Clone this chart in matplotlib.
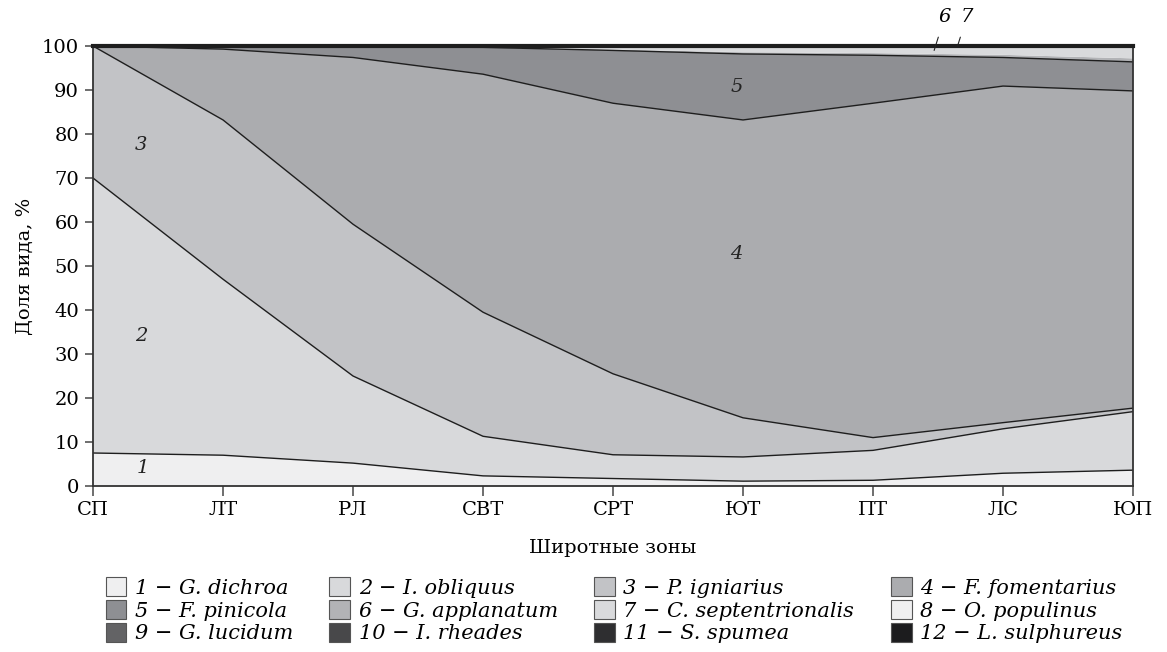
"""
Stacked share of polypore species across latitudinal zones.
"""

import numpy as np
import matplotlib.pyplot as plt
from matplotlib.patches import Patch

# latitudinal zones
zones = ["СП", "ЛТ", "РЛ", "СВТ", "СРТ", "ЮТ", "ПТ", "ЛС", "ЮП"]

# share of each species, %
s1 = [7.5, 7.0, 5.2, 2.3, 1.7, 1.1, 1.3, 2.9, 3.6]
s2 = [62.5, 40.0, 19.8, 9.0, 5.4, 5.5, 6.8, 10.1, 13.3]
s3 = [30.0, 36.2, 34.5, 28.2, 18.4, 8.9, 2.9, 1.4, 0.8]
s4 = [0.0, 16.1, 37.9, 54.1, 61.5, 67.7, 76.0, 76.5, 72.1]
s5 = [0.0, 0.6, 2.4, 6.1, 12.0, 15.0, 10.9, 6.5, 6.6]
s6 = [0.0, 0.0, 0.0, 0.05, 0.2, 0.4, 0.5, 0.6, 0.8]
s7 = [0.0, 0.1, 0.2, 0.2, 0.7, 1.3, 1.5, 1.9, 2.7]
s8 = [0.0, 0.0, 0.0, 0.05, 0.1, 0.1, 0.1, 0.1, 0.1]
s9 = [0.0, 0.0, 0.0, 0.0, 0.0, 0.0, 0.0, 0.0, 0.0]
s10 = [0.0, 0.0, 0.0, 0.0, 0.0, 0.0, 0.0, 0.0, 0.0]
s11 = [0.0, 0.0, 0.0, 0.0, 0.0, 0.0, 0.0, 0.0, 0.0]
s12 = [0.0, 0.0, 0.0, 0.0, 0.0, 0.0, 0.0, 0.0, 0.0]

species = ["G. dichroa", "I. obliquus", "P. igniarius", "F. fomentarius",
           "F. pinicola", "G. applanatum", "C. septentrionalis", "O. populinus",
           "G. lucidum", "I. rheades", "S. spumea", "L. sulphureus"]
colors = ["#efeff0", "#d8d9db", "#c2c3c6", "#abacaf", "#8e8f93", "#b2b3b6",
          "#d9dadc", "#efeff0", "#636365", "#48484a", "#2e2e30", "#1c1c1e"]

# in-plot labels: (text, x index, y %)
area_labels = [("1", 0.38, 4.0), ("2", 0.37, 34.0), ("3", 0.37, 77.5),
               ("4", 4.95, 52.7), ("5", 4.95, 90.7)]

plt.rcParams['font.family'] = ['DejaVu Serif']

fig = plt.figure(figsize=(11.67, 6.52), dpi=100)
ax = fig.add_axes([0.0797, 0.2546, 0.8912, 0.6748])

x = np.arange(len(zones))
series = [s1, s2, s3, s4, s5, s6, s7, s8, s9, s10, s11, s12]
ax.stackplot(x, *series, colors=colors, linewidth=0)

# boundary lines of the first five layers
cum = np.cumsum(np.array(series), axis=0)
for k in range(5):
    ax.plot(x, np.minimum(cum[k], 100), color="#1e1e1e", linewidth=1.0)

for txt, xi, yi in area_labels:
    ax.text(xi, yi, txt, fontsize=14, style="italic", ha="center", va="center",
            color="#222222")

# labels 6 and 7 with leader lines
ax.annotate("6", xy=(6.47, 99.0), xytext=(6.55, 106.5), fontsize=14, style="italic",
            ha="center", va="center", annotation_clip=False,
            arrowprops=dict(arrowstyle="-", color="#222222", lw=0.8, shrinkA=6, shrinkB=0))
ax.annotate("7", xy=(6.65, 100.0), xytext=(6.72, 106.5), fontsize=14, style="italic",
            ha="center", va="center", annotation_clip=False,
            arrowprops=dict(arrowstyle="-", color="#222222", lw=0.8, shrinkA=6, shrinkB=0))

ax.set_xlim(0, len(zones) - 1)
ax.set_ylim(0, 100)
ax.set_xticks(x)
ax.set_xticklabels(zones)
ax.set_yticks(np.arange(0, 101, 10))
ax.tick_params(axis='both', labelsize=14, direction='out', color="#555555")
ax.tick_params(axis='x', length=7, width=1.2, pad=4)
ax.tick_params(axis='y', length=6, width=1.2, pad=4)

for side in ["left", "right", "bottom"]:
    ax.spines[side].set_linewidth(1.3)
    ax.spines[side].set_color("#333333")
ax.spines["top"].set_linewidth(3.0)
ax.spines["top"].set_color("#1e1e1e")

ax.set_ylabel("Доля вида, %", fontsize=14, labelpad=6)
ax.set_xlabel("Широтные зоны", fontsize=14, labelpad=14)

# legend filled row by row: 4 columns x 3 rows
handles = [Patch(facecolor=c, edgecolor="#555555", linewidth=0.8) for c in colors]
labels = [f"{i + 1} − {name}" for i, name in enumerate(species)]
order = [0, 4, 8, 1, 5, 9, 2, 6, 10, 3, 7, 11]
fig.legend([handles[i] for i in order], [labels[i] for i in order],
           ncol=4, loc="center", bbox_to_anchor=(0.526, 0.064), frameon=False,
           prop=dict(family="DejaVu Serif", style="italic", size=15),
           handlelength=1.0, handleheight=1.0, handletextpad=0.4,
           labelspacing=0.12, columnspacing=1.75, borderpad=0)

plt.savefig("out.png", dpi=100)
plt.close()
